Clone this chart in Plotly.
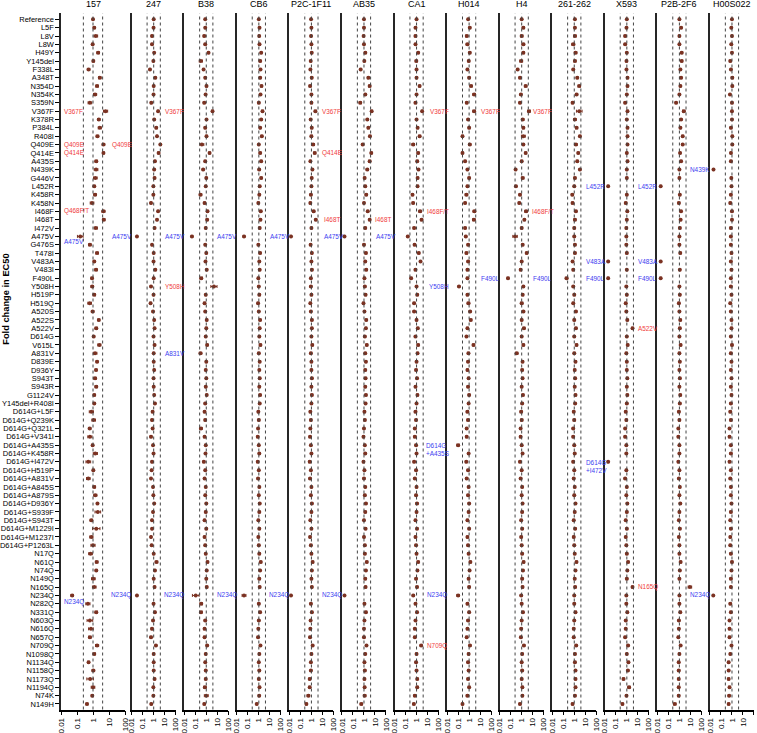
import plotly.graph_objects as go

variants = ["Reference","L5F","L8V","L8W","H49Y","Y145del","F338L","A348T","N354D","N354K",
 "S359N","V367F","K378R","P384L","R408I","Q409E","Q414E","A435S","N439K","G446V",
 "L452R","K458R","K458N","I468F","I468T","I472V","A475V","G476S","T478I","V483A",
 "V483I","F490L","Y508H","H519P","H519Q","A520S","A522S","A522V","D614G","V615L",
 "A831V","D839E","D936Y","S943T","S943R","G1124V","Y145del+R408I","D614G+L5F","D614G+Q239K","D614G+Q321L",
 "D614G+V341I","D614G+A435S","D614G+K458R","D614G+I472V","D614G+H519P","D614G+A831V","D614G+A845S","D614G+A879S","D614G+D936Y","D614G+S939F",
 "D614G+S943T","D614G+M1229I","D614G+M1237I","D614G+P1263L","N17Q","N61Q","N74Q","N149Q","N165Q","N234Q",
 "N282Q","N331Q","N603Q","N616Q","N657Q","N709Q","N1098Q","N1134Q","N1158Q","N1173Q",
 "N1194Q","N74K","N149H"]

antibodies = ["157","247","B38","CB6","P2C-1F11","AB35","CA1","H014","H4","261-262","X593","P2B-2F6","H00S022"]

x_ticks = [0.01, 0.1, 1, 10, 100]
x_ticktext = ["0.01", "0.1", "1", "10", "100"]
ref_lines = [0.25, 1, 4]

# fold change in EC50 (rows follow `variants`); err_* = multiplicative error (x/÷)
fc_157 = [1.0,1.2,1.5,0.95,2.1,1.05,0.53,2.65,1.8,1.35,
 0.64,6.1,2.3,2.65,1.9,4.5,4.5,1.6,1.55,1.4,
 1.2,1.35,0.87,4.5,4.7,1.5,0.16,0.64,1.8,1.2,
 1.55,0.87,0.9,1.2,0.62,0.95,2.3,1.6,1.1,2.5,
 1.35,1.8,1.55,1.35,1.6,1.2,1.2,0.79,1.1,0.62,
 0.64,0.95,1.4,0.51,1.05,0.51,1.2,1.4,1.9,2.0,
 0.79,1.6,0.79,1.0,0.7,1.7,1.6,1.05,1.2,0.05,
 0.48,1.6,0.64,0.74,0.64,1.8,1.2,0.53,1.05,0.66,
 1.0,0.9,0.42]
err_157 = [1.1,1.15,1.3,1.15,1.2,1.15,1.2,1.2,1.2,1.25,
 1.3,1.35,1.2,1.25,1.2,1.2,1.15,1.2,1.3,1.3,
 1.15,1.2,1.3,1.25,1.2,1.25,1.5,1.2,1.2,1.15,
 1.2,1.15,1.2,1.2,1.3,1.2,1.15,1.2,1.15,1.25,
 1.3,1.15,1.15,1.2,1.2,1.15,1.15,1.35,1.3,1.2,
 1.35,1.15,1.35,1.4,1.15,1.3,1.2,1.25,1.15,1.5,
 1.2,1.7,1.25,1.35,1.3,1.2,1.15,1.3,1.3,1.2,
 1.35,1.2,1.5,1.4,1.2,1.25,1.2,1.15,1.2,1.6,
 1.3,1.15,1.15]

fc_247 = [1.0,0.97,0.7,0.7,1.1,0.93,0.46,1.4,1.0,0.97,
 0.6,2.5,1.1,1.7,2.0,4.0,2.8,1.3,1.1,1.2,
 0.93,0.93,0.57,2.5,2.0,1.2,0.03,0.7,1.0,0.97,
 1.4,1.0,0.57,0.97,0.52,0.87,1.1,1.2,0.97,1.2,
 1.0,1.0,1.1,0.97,1.0,1.1,1.3,0.8,0.7,0.8,
 0.57,0.87,0.97,0.7,0.65,0.57,0.87,0.93,1.1,0.87,
 0.7,0.7,0.57,0.65,1.0,1.8,1.3,1.0,1.2,0.03,
 0.97,1.3,0.87,0.7,0.57,1.6,1.0,1.0,1.0,1.2,
 0.93,0.93,0.6]
err_247 = [1.1,1.1,1.15,1.15,1.1,1.1,1.15,1.15,1.1,1.1,
 1.15,1.15,1.15,1.2,1.1,1.15,1.2,1.15,1.15,1.15,
 1.15,1.1,1.15,1.15,1.15,1.1,1.1,1.1,1.1,1.1,
 1.15,1.1,1.15,1.1,1.15,1.15,1.1,1.1,1.1,1.1,
 1.1,1.1,1.1,1.1,1.1,1.1,1.15,1.2,1.15,1.1,
 1.2,1.1,1.15,1.15,1.1,1.1,1.1,1.1,1.1,1.1,
 1.1,1.1,1.1,1.1,1.1,1.3,1.15,1.1,1.15,1.1,
 1.15,1.15,1.15,1.2,1.2,1.15,1.15,1.1,1.1,1.15,
 1.1,1.1,1.15]

fc_B38 = [0.8,0.8,0.65,0.8,1.6,0.32,0.57,0.8,1.05,0.87,
 0.65,3.7,1.05,0.8,1.05,0.4,2.0,0.8,0.52,1.0,
 0.9,0.3,0.7,1.3,1.2,0.9,0.05,0.8,1.0,0.85,
 1.1,0.35,5.0,0.9,0.7,0.8,1.1,1.0,0.9,1.2,
 0.3,1.0,0.9,1.0,0.9,1.1,0.8,0.7,0.8,0.33,
 0.7,0.9,0.85,0.6,0.8,0.7,0.9,0.8,1.0,0.9,
 0.7,1.0,0.7,0.8,0.9,1.3,1.1,1.0,1.1,0.11,
 0.35,0.33,0.8,0.7,0.7,1.2,0.9,0.8,0.9,0.9,
 0.75,1.0,0.66]
err_B38 = [1.1,1.15,1.2,1.2,1.15,1.4,1.2,1.15,1.2,1.15,
 1.2,1.2,1.15,1.2,1.15,1.5,1.2,1.2,1.2,1.15,
 1.15,1.3,1.2,1.2,1.2,1.15,1.2,1.15,1.15,1.15,
 1.15,1.3,1.9,1.15,1.2,1.15,1.15,1.15,1.15,1.2,
 1.3,1.15,1.15,1.15,1.15,1.15,1.2,1.2,1.2,1.3,
 1.2,1.15,1.15,1.2,1.15,1.2,1.15,1.15,1.15,1.2,
 1.15,1.2,1.15,1.2,1.15,1.2,1.15,1.15,1.2,2.0,
 1.3,1.3,1.2,1.2,1.2,1.2,1.15,1.15,1.15,1.2,
 1.3,1.5,1.2]

fc_CB6 = [1.0,1.15,1.07,1.15,1.63,1.32,1.42,1.32,1.75,1.42,
 1.0,2.15,1.63,1.32,1.87,1.0,1.32,1.63,1.07,1.63,
 1.2,1.1,0.9,1.5,1.4,1.2,0.045,0.9,1.3,1.1,
 1.2,0.9,1.0,1.1,0.85,1.0,1.3,1.2,1.1,1.4,
 1.0,1.2,1.1,1.2,1.1,1.3,1.2,0.9,1.0,0.85,
 0.8,1.0,1.1,0.8,1.0,0.85,1.1,1.0,1.2,1.1,
 0.9,1.1,0.9,1.0,1.1,1.5,1.3,1.1,1.2,0.045,
 1.0,1.3,1.0,0.9,0.85,1.4,1.1,1.0,1.1,1.0,
 1.15,1.07,0.65]
err_CB6 = [1.1,1.15,1.15,1.2,1.15,1.2,1.2,1.15,1.2,1.2,
 1.2,1.2,1.2,1.15,1.2,1.15,1.2,1.2,1.2,1.2,
 1.2,1.15,1.2,1.2,1.2,1.15,1.2,1.15,1.2,1.15,
 1.15,1.2,1.15,1.2,1.2,1.15,1.2,1.15,1.15,1.2,
 1.2,1.15,1.15,1.2,1.15,1.2,1.2,1.2,1.2,1.15,
 1.2,1.15,1.2,1.2,1.15,1.2,1.15,1.15,1.2,1.2,
 1.15,1.2,1.15,1.2,1.2,1.2,1.15,1.2,1.15,1.5,
 1.2,1.2,1.2,1.15,1.2,1.2,1.15,1.15,1.2,1.2,
 1.2,1.2,1.15]

fc_P2C = [0.93,1.0,0.93,1.0,1.07,0.87,0.81,1.07,0.76,1.0,
 1.0,2.3,0.87,1.07,1.0,1.42,2.0,0.81,1.23,1.07,
 1.0,0.9,0.8,1.6,2.5,1.0,0.014,0.85,1.1,1.0,
 1.1,0.9,0.9,1.0,0.8,0.9,1.1,1.1,1.0,1.2,
 0.9,1.0,1.0,1.1,1.0,1.1,1.0,0.8,0.9,0.8,
 0.75,0.9,1.0,0.7,0.9,0.75,1.0,0.9,1.1,1.0,
 0.8,1.0,0.75,0.9,1.0,1.3,1.1,1.0,1.1,0.014,
 0.9,1.1,0.85,0.8,0.75,1.3,1.0,0.9,0.9,0.7,
 0.7,0.53,0.35]
err_P2C = [1.1,1.15,1.15,1.15,1.15,1.15,1.15,1.2,1.2,1.2,
 1.2,1.25,1.15,1.2,1.25,1.35,1.25,1.15,1.2,1.15,
 1.15,1.2,1.2,1.25,1.2,1.15,1.1,1.2,1.15,1.15,
 1.2,1.15,1.2,1.15,1.2,1.15,1.2,1.15,1.15,1.2,
 1.2,1.15,1.15,1.2,1.15,1.2,1.2,1.2,1.2,1.15,
 1.2,1.15,1.2,1.2,1.15,1.2,1.15,1.15,1.2,1.2,
 1.15,1.2,1.15,1.2,1.2,1.2,1.15,1.2,1.15,1.1,
 1.2,1.2,1.2,1.15,1.2,1.2,1.15,1.15,1.2,1.2,
 1.2,1.3,1.2]

fc_AB35 = [1.0,1.0,0.93,1.0,1.32,1.07,0.5,2.48,3.27,1.32,
 0.46,5.0,2.0,2.48,3.5,0.76,4.6,3.27,2.0,1.15,
 1.3,1.6,1.0,2.2,3.3,1.3,0.017,1.0,1.5,1.3,
 1.6,1.1,1.2,1.4,0.9,1.1,1.6,1.5,1.2,1.8,
 1.3,1.5,1.3,1.4,1.3,1.5,1.4,1.1,1.2,1.0,
 0.9,1.2,1.3,0.9,1.1,1.0,1.3,1.2,1.5,1.3,
 1.0,1.4,1.0,1.2,1.2,1.8,1.5,1.3,1.4,0.017,
 1.1,1.5,1.1,1.0,1.0,1.7,1.3,1.1,1.2,1.1,
 1.15,1.15,0.57]
err_AB35 = [1.1,1.15,1.15,1.15,1.2,1.15,1.2,1.2,1.25,1.2,
 1.25,1.2,1.2,1.2,1.2,1.25,1.2,1.25,1.25,1.2,
 1.2,1.2,1.15,1.2,1.2,1.2,1.1,1.2,1.2,1.15,
 1.2,1.15,1.2,1.2,1.2,1.15,1.2,1.15,1.2,1.2,
 1.2,1.15,1.2,1.2,1.15,1.2,1.2,1.2,1.2,1.15,
 1.2,1.15,1.2,1.2,1.15,1.2,1.15,1.2,1.2,1.2,
 1.15,1.2,1.15,1.2,1.2,1.2,1.15,1.2,1.15,1.1,
 1.2,1.2,1.2,1.15,1.2,1.2,1.15,1.2,1.2,1.2,
 1.2,1.3,1.25]

fc_CA1 = [1.0,0.8,0.8,0.8,1.4,0.95,1.0,1.0,1.9,1.0,
 0.8,3.2,1.0,1.25,1.9,0.5,1.4,1.15,1.5,1.25,
 1.23,0.43,0.49,2.1,2.85,0.6,0.16,0.66,1.6,2.3,
 0.8,0.32,1.0,1.15,0.6,0.6,1.0,1.3,0.8,1.4,
 1.23,1.0,0.9,1.1,0.8,1.2,1.0,0.8,0.9,0.7,
 0.7,0.9,1.0,0.6,0.9,0.7,1.0,0.9,1.1,1.0,
 0.8,1.1,0.8,0.9,1.0,1.4,1.2,0.9,1.1,0.5,
 0.8,1.1,0.8,0.7,0.7,2.6,1.0,0.9,1.0,1.15,
 1.15,0.7,0.57]
err_CA1 = [1.1,1.2,1.25,1.2,1.2,1.25,1.2,1.2,1.2,1.2,
 1.25,1.15,1.2,1.2,1.25,1.3,1.2,1.2,1.2,1.2,
 1.2,1.2,1.2,1.3,1.25,1.2,1.2,1.2,1.2,1.2,
 1.25,1.2,1.2,1.2,1.2,1.2,1.2,1.2,1.25,1.2,
 1.2,1.2,1.2,1.2,1.2,1.2,1.2,1.25,1.2,1.2,
 1.25,1.2,1.2,1.2,1.2,1.2,1.2,1.2,1.25,1.2,
 1.2,1.2,1.2,1.2,1.2,1.2,1.2,1.2,1.2,1.2,
 1.2,1.2,1.2,1.2,1.2,1.2,1.2,1.2,1.2,1.2,
 1.2,1.25,1.2]

fc_H014 = [0.81,1.15,0.61,0.7,1.15,0.93,0.7,1.0,1.5,2.85,
 0.61,2.85,0.81,1.0,0.25,1.15,0.25,0.43,0.7,1.0,
 0.7,0.57,0.43,3.0,2.7,0.43,0.5,0.81,0.57,0.81,
 0.7,0.7,0.12,0.7,0.87,1.23,1.4,0.7,0.57,2.5,
 0.87,0.8,0.7,0.9,0.8,1.0,0.9,0.7,0.8,0.6,
 0.6,0.1,0.9,0.55,0.8,0.6,0.9,0.8,1.0,0.9,
 0.7,1.0,0.7,0.8,0.9,1.3,1.1,0.9,1.0,0.1,
 0.7,1.0,0.8,0.7,0.6,1.2,0.9,0.8,0.9,0.8,
 1.0,0.7,0.25]
err_H014 = [1.1,1.2,1.25,1.3,1.2,1.2,1.2,1.2,1.25,1.3,
 1.2,1.3,1.2,1.2,1.2,1.25,1.2,1.2,1.2,1.2,
 1.2,1.3,1.2,1.3,1.3,1.2,1.2,1.2,1.25,1.2,
 1.2,1.2,1.2,1.2,1.3,1.2,1.25,1.2,1.2,1.25,
 1.25,1.2,1.2,1.2,1.2,1.2,1.2,1.25,1.25,1.2,
 1.2,1.3,1.2,1.2,1.2,1.25,1.2,1.2,1.2,1.2,
 1.2,1.2,1.2,1.2,1.2,1.2,1.2,1.2,1.2,1.3,
 1.2,1.2,1.2,1.2,1.2,1.2,1.2,1.2,1.2,1.2,
 1.2,1.25,1.2]

fc_H4 = [1.0,1.42,1.0,1.42,1.42,0.9,0.43,0.7,2.3,0.85,
 0.7,4.6,1.23,1.42,1.42,1.42,2.3,1.0,0.28,1.23,
 0.3,0.7,0.6,2.5,1.75,1.0,0.25,1.23,2.85,1.0,
 0.81,0.057,1.42,1.23,1.0,1.42,1.0,1.6,1.0,1.42,
 0.35,1.2,1.1,1.2,1.0,1.3,1.1,0.9,1.0,0.8,
 0.8,1.0,1.2,0.7,1.0,0.8,1.1,1.0,1.2,1.1,
 0.9,1.1,0.9,1.0,1.1,1.5,1.3,1.1,1.2,0.9,
 1.0,1.3,1.0,0.9,0.85,1.6,1.1,1.0,1.1,1.0,
 1.15,1.15,0.7]
err_H4 = [1.1,1.25,1.3,1.3,1.25,1.35,1.2,1.2,1.3,1.2,
 1.2,1.35,1.3,1.2,1.5,1.2,1.2,1.2,1.2,1.3,
 1.2,1.2,1.2,1.3,1.2,1.2,1.6,1.2,1.2,1.2,
 1.2,1.2,1.2,1.2,1.3,1.3,1.2,1.25,1.2,1.2,
 1.3,1.2,1.2,1.2,1.2,1.2,1.2,1.25,1.25,1.2,
 1.2,1.2,1.2,1.2,1.2,1.25,1.2,1.2,1.2,1.2,
 1.2,1.2,1.2,1.2,1.2,1.2,1.2,1.2,1.2,1.2,
 1.2,1.2,1.2,1.2,1.2,1.2,1.2,1.2,1.2,1.2,
 1.2,1.2,1.2]

fc_261 = [1.15,1.15,1.15,0.81,1.32,1.15,0.81,1.87,2.85,1.63,
 0.7,2.85,1.15,1.63,3.27,1.42,2.3,1.87,3.27,1.15,
 1.0,0.66,0.7,1.42,1.15,1.0,1.0,1.15,1.15,0.7,
 0.81,0.2,0.81,1.0,0.81,1.42,1.0,1.42,1.0,1.63,
 1.0,1.3,1.1,1.2,1.1,1.3,1.2,0.9,1.0,0.8,
 0.8,1.0,1.1,0.8,1.0,0.9,1.1,1.0,1.3,1.1,
 0.9,1.2,0.9,1.0,1.1,1.6,1.3,1.1,1.2,1.0,
 1.0,1.3,1.0,0.9,0.9,1.5,1.15,1.15,1.3,1.3,
 1.3,1.15,0.7]
err_261 = [1.1,1.15,1.3,1.35,1.3,1.25,1.2,1.2,1.3,1.25,
 1.2,1.8,1.3,1.25,1.2,1.3,1.2,1.2,1.2,1.2,
 1.2,1.2,1.2,1.2,1.25,1.2,1.2,1.2,1.2,1.2,
 1.2,1.3,1.2,1.2,1.2,1.2,1.2,1.2,1.2,1.2,
 1.2,1.2,1.2,1.2,1.2,1.2,1.2,1.2,1.25,1.2,
 1.2,1.2,1.2,1.2,1.2,1.2,1.2,1.2,1.2,1.2,
 1.2,1.2,1.2,1.2,1.2,1.2,1.2,1.2,1.2,1.2,
 1.2,1.2,1.2,1.2,1.2,1.2,1.2,1.2,1.2,1.2,
 1.2,1.2,1.2]

fc_X593 = [1.0,0.93,0.7,0.7,1.0,0.93,0.93,1.15,1.15,1.0,
 0.7,1.15,1.0,1.15,1.15,1.15,1.0,1.15,1.0,1.0,
 0.02,1.0,0.8,1.1,1.0,0.9,0.9,0.9,1.0,0.02,
 1.0,0.02,0.9,1.0,0.8,0.9,1.1,3.3,1.0,1.2,
 0.9,1.0,1.0,1.1,1.0,1.1,1.0,0.8,0.9,0.7,
 0.7,0.9,0.9,0.02,0.9,0.7,1.0,0.9,1.1,1.0,
 0.8,1.0,0.8,0.9,1.0,1.3,1.1,1.0,3.3,0.9,
 0.9,1.1,0.8,0.8,0.7,1.3,1.0,1.4,1.25,0.5,
 1.6,0.93,0.4]
err_X593 = [1.1,1.15,1.2,1.2,1.15,1.2,1.15,1.2,1.2,1.15,
 1.2,1.2,1.15,1.2,1.15,1.2,1.15,1.2,1.15,1.15,
 1.15,1.15,1.2,1.2,1.15,1.2,1.15,1.15,1.2,1.15,
 1.15,1.15,1.2,1.15,1.2,1.15,1.2,1.2,1.15,1.2,
 1.2,1.15,1.15,1.2,1.15,1.2,1.2,1.2,1.2,1.15,
 1.2,1.15,1.2,1.15,1.15,1.2,1.15,1.15,1.2,1.2,
 1.15,1.2,1.15,1.2,1.2,1.2,1.15,1.2,1.2,1.15,
 1.2,1.2,1.2,1.15,1.2,1.2,1.15,1.2,1.2,1.25,
 1.3,1.2,1.2]

fc_P2B = [1.0,1.42,1.0,1.0,1.63,1.63,1.23,1.42,1.23,1.0,
 0.5,2.5,1.42,1.23,2.0,2.0,1.15,1.42,1.0,1.0,
 0.02,1.1,0.9,1.4,1.3,1.1,1.0,1.0,1.2,0.02,
 1.1,0.02,1.0,1.1,0.9,1.0,1.2,1.1,1.0,1.3,
 1.0,1.1,1.0,1.1,1.0,1.2,1.1,0.9,1.0,0.8,
 0.8,1.0,1.0,0.8,1.0,0.9,1.1,1.0,1.2,1.0,
 0.9,1.1,0.9,1.0,1.0,1.3,1.1,1.0,9.0,1.0,
 1.0,1.2,0.9,0.9,0.8,1.3,1.0,0.87,0.87,0.87,
 0.87,0.87,0.38]
err_P2B = [1.1,1.2,1.15,1.15,1.2,1.2,1.15,1.2,1.15,1.15,
 1.2,1.3,1.2,1.15,1.2,1.2,1.15,1.2,1.15,1.15,
 1.15,1.15,1.2,1.2,1.15,1.2,1.15,1.15,1.2,1.15,
 1.15,1.15,1.2,1.15,1.2,1.15,1.2,1.2,1.15,1.2,
 1.2,1.15,1.15,1.2,1.15,1.2,1.2,1.2,1.2,1.15,
 1.2,1.15,1.2,1.15,1.15,1.2,1.15,1.15,1.2,1.2,
 1.15,1.2,1.15,1.2,1.2,1.2,1.15,1.2,1.45,1.15,
 1.2,1.2,1.2,1.15,1.2,1.2,1.15,1.2,1.25,1.2,
 1.2,1.2,1.3]

fc_H00 = [1.0,0.87,1.0,0.87,1.0,0.7,0.81,1.07,1.07,0.66,
 1.0,1.0,1.0,0.81,1.07,1.07,0.81,0.81,0.021,0.87,
 0.9,0.8,0.7,1.0,1.0,0.8,0.8,0.8,0.9,0.8,
 0.9,0.8,0.8,0.9,0.7,0.8,0.9,0.9,0.8,1.0,
 0.8,0.9,0.8,0.9,0.8,0.9,0.8,0.7,0.8,0.6,
 0.6,0.8,0.8,0.6,0.8,0.7,0.8,0.8,0.9,0.8,
 0.7,0.8,0.7,0.7,0.8,1.0,0.9,0.8,0.8,0.02,
 0.7,0.8,0.6,0.6,0.6,0.9,0.7,0.5,0.5,0.5,
 0.6,0.55,0.5]
err_H00 = [1.1,1.15,1.15,1.2,1.15,1.2,1.15,1.25,1.2,1.15,
 1.2,1.15,1.15,1.2,1.15,1.2,1.15,1.2,1.1,1.15,
 1.15,1.15,1.2,1.2,1.15,1.2,1.15,1.15,1.2,1.15,
 1.15,1.15,1.2,1.15,1.2,1.15,1.2,1.2,1.15,1.2,
 1.2,1.15,1.15,1.2,1.15,1.2,1.2,1.2,1.2,1.15,
 1.2,1.15,1.2,1.15,1.15,1.2,1.15,1.15,1.2,1.2,
 1.15,1.2,1.15,1.2,1.2,1.2,1.15,1.2,1.15,1.1,
 1.2,1.2,1.2,1.15,1.2,1.2,1.15,1.2,1.2,1.2,
 1.2,1.2,1.2]

series = [fc_157, fc_247, fc_B38, fc_CB6, fc_P2C, fc_AB35, fc_CA1, fc_H014, fc_H4, fc_261, fc_X593, fc_P2B, fc_H00]
errors = [err_157, err_247, err_B38, err_CB6, err_P2C, err_AB35, err_CA1, err_H014, err_H4, err_261, err_X593, err_P2B, err_H00]

RED = "#f03c3c"
BLUE = "#4040f0"
# text labels: (text, row variant, colour, left edge in px)
labels = [
    ("V367F", "V367F", RED, 62), ("Q409E", "Q409E", RED, 62), ("Q409E", "Q409E", RED, 110),
    ("Q414E", "Q414E", RED, 62), ("Q468F/T", "I468F", RED, 62),
    ("A475V", 26.6, BLUE, 62), ("N234Q", 69.8, BLUE, 62),
    ("A475V", "A475V", BLUE, 110), ("N234Q", "N234Q", BLUE, 109),
    ("V367F", "V367F", RED, 163), ("A475V", "A475V", BLUE, 163), ("Y508H", "Y508H", RED, 163),
    ("A831V", "A831V", BLUE, 163), ("N234Q", "N234Q", BLUE, 162),
    ("A475V", "A475V", BLUE, 215), ("N234Q", "N234Q", BLUE, 215),
    ("A475V", "A475V", BLUE, 268), ("N234Q", "N234Q", BLUE, 267),
    ("V367F", "V367F", RED, 320), ("Q414E", "Q414E", RED, 320), ("I468T", "I468T", RED, 322),
    ("A475V", "A475V", BLUE, 322), ("N234Q", "N234Q", BLUE, 320),
    ("I468T", "I468T", RED, 373), ("A475V", "A475V", BLUE, 374),
    ("V367F", "V367F", RED, 428), ("I468F/T", "I468F", RED, 425), ("Y508H", "Y508H", BLUE, 427),
    ("D614G<br>+A435S", 51.5, BLUE, 424), ("N234Q", "N234Q", BLUE, 425), ("N709Q", "N709Q", RED, 425),
    ("V367F", "V367F", RED, 479), ("F490L", "F490L", BLUE, 479),
    ("V367F", "V367F", RED, 531), ("I468F/T", "I468F", RED, 530), ("F490L", "F490L", BLUE, 531),
    ("L452R", "L452R", BLUE, 584), ("V483A", "V483A", BLUE, 584), ("F490L", "F490L", BLUE, 584),
    ("D614G<br>+I472V", 53.5, BLUE, 584),
    ("L452R", "L452R", BLUE, 636), ("V483A", "V483A", BLUE, 636), ("F490L", "F490L", BLUE, 636),
    ("A522V", "A522V", RED, 636), ("N165Q", "N165Q", RED, 636),
    ("N439K", "N439K", BLUE, 688), ("N234Q", "N234Q", BLUE, 688),
]

W, H = 757, 733
TOP, BOTTOM = 13.3, 709.5
first_panel = (61, 125)
panel_w = 44
panel_starts = [131.7 + i * 52.57 for i in range(12)]
extents = [first_panel] + [(s, s + panel_w) for s in panel_starts]

POINT = "#7b3222"
nrows = len(variants)
rows = list(range(nrows))
y_range = [nrows - 1 + 0.66, -0.72]
ydom = [1 - BOTTOM / H, 1 - TOP / H]

fig = go.Figure()
layout = dict(width=W, height=H, margin=dict(l=0, r=0, t=0, b=0, autoexpand=False),
              paper_bgcolor="white", plot_bgcolor="white", showlegend=False,
              font=dict(family="Liberation Sans, Arial, sans-serif", color="black"))
shapes = []
annotations = []

for k, (name, vals, errs) in enumerate(zip(antibodies, series, errors)):
    i = k + 1
    xa = "x" if i == 1 else f"x{i}"
    ya = "y" if i == 1 else f"y{i}"
    x0, x1 = extents[k]
    fig.add_trace(go.Scatter(
        x=vals, y=rows, mode="markers", xaxis=xa, yaxis=ya,
        marker=dict(color=POINT, size=4, symbol="circle"),
        error_x=dict(type="data", symmetric=False,
                     array=[v * (e - 1) for v, e in zip(vals, errs)],
                     arrayminus=[v * (1 - 1 / e) for v, e in zip(vals, errs)],
                     color=POINT, thickness=1, width=1.5),
        cliponaxis=False, hoverinfo="skip"))
    layout["xaxis" if i == 1 else f"xaxis{i}"] = dict(
        type="log", range=[-2, 2], domain=[x0 / W, x1 / W], anchor=ya, automargin=False,
        showline=True, linecolor="black", linewidth=1.5, mirror=False,
        ticks="outside", ticklen=3.5, tickwidth=1.3, tickcolor="black",
        tickvals=x_ticks, ticktext=x_ticktext, tickangle=-90,
        tickfont=dict(size=8), showgrid=False, zeroline=False, fixedrange=True)
    yd = dict(range=y_range, domain=ydom, anchor=xa, showline=True, automargin=False,
              linecolor="#262626", linewidth=2.2, showgrid=False, zeroline=False,
              fixedrange=True)
    if i == 1:
        yd.update(tickvals=rows, ticktext=variants, ticks="outside", ticklen=3.5,
                  tickwidth=1.3, tickcolor="black", tickfont=dict(size=7.5))
    else:
        yd.update(showticklabels=False, ticks="")
    layout["yaxis" if i == 1 else f"yaxis{i}"] = yd
    for r in ref_lines:
        shapes.append(dict(type="line", xref=xa, yref=f"{ya} domain", x0=r, x1=r, y0=0, y1=1,
                           line=dict(color="#444444", width=1, dash="dot")))
    annotations.append(dict(text=name, xref="paper", yref="paper", x=(x0 + x1) / 2 / W,
                            y=1 - 3.8 / H, xanchor="center", yanchor="middle", showarrow=False,
                            font=dict(size=9)))

for text, row, color, px in labels:
    yv = variants.index(row) if isinstance(row, str) else row
    annotations.append(dict(text=text, xref="paper", yref="y", x=px / W, y=yv,
                            xanchor="left", yanchor="middle", showarrow=False,
                            font=dict(size=6.4, color=color), align="left"))

annotations.append(dict(text="<b>Fold change in EC50</b>", xref="paper", yref="paper",
                        x=5.8 / W, y=1 - 299 / H, textangle=-90, xanchor="center",
                        yanchor="middle", showarrow=False, font=dict(size=9.3)))

layout["shapes"] = shapes
layout["annotations"] = annotations
fig.update_layout(**layout)
fig.write_html("out.html", config={"displayModeBar": False},
               post_script="document.body.style.margin='0px';document.body.style.overflow='hidden';")
